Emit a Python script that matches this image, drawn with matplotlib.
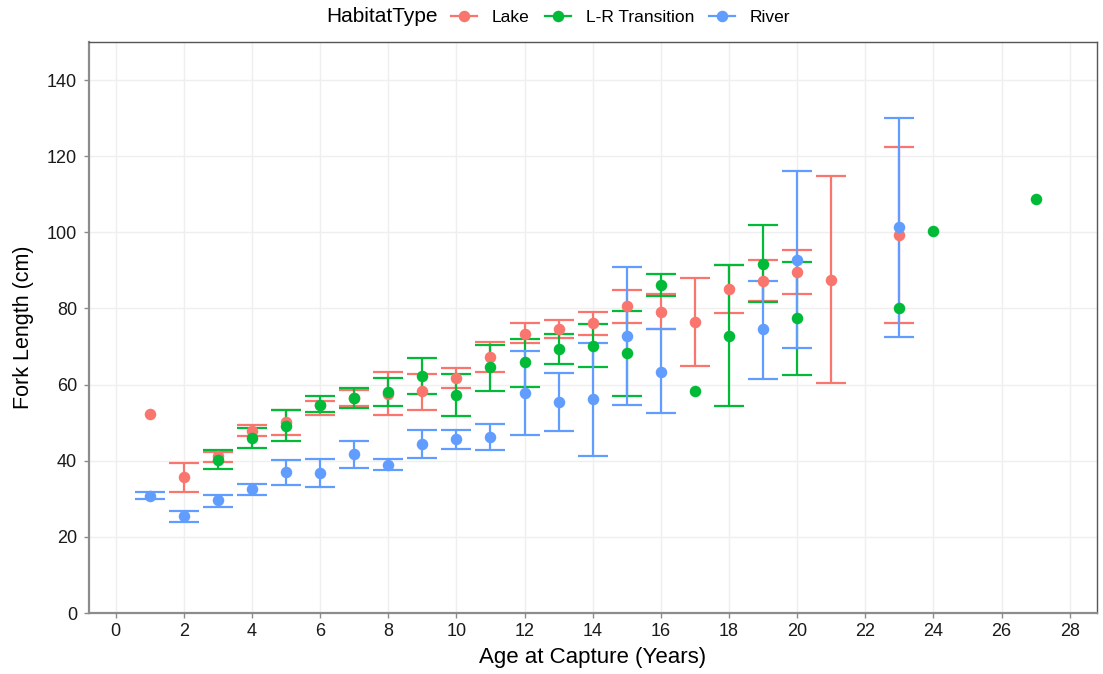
import numpy as np
import matplotlib
matplotlib.use("Agg")
import matplotlib.pyplot as plt
from matplotlib.lines import Line2D

plt.rcParams["font.family"] = ["Liberation Sans", "DejaVu Sans"]

# Mean fork length (cm) by age, with lower/upper bounds of the error bars
lake_age = [1, 2, 3, 4, 5, 6, 7, 8, 9, 10, 11, 12, 13, 14, 15, 16, 17, 18, 19, 20, 21, 23]
lake_mean = [52.4, 35.8, 41.3, 47.9, 50.2, 54.7, 56.6, 57.6, 58.2, 61.8, 67.3, 73.4, 74.6, 76.2,
             80.6, 79.2, 76.4, 85.2, 87.2, 89.5, 87.6, 99.2]
lake_low = [None, 31.9, 39.6, 46.4, 46.8, 52.1, 54.5, 51.9, 53.4, 59.0, 63.4, 71.0, 72.3, 72.9,
            76.2, 74.5, 65.0, 78.9, 81.9, 83.7, 60.3, 76.1]
lake_high = [None, 39.5, 42.4, 49.5, 53.4, 55.8, 58.7, 63.3, 62.7, 64.4, 71.2, 76.1, 76.9, 79.1,
             84.8, 83.9, 87.9, 91.5, 92.8, 95.4, 114.7, 122.5]

lr_age = [3, 4, 5, 6, 7, 8, 9, 10, 11, 12, 13, 14, 15, 16, 17, 18, 19, 20, 23, 24, 27]
lr_mean = [40.3, 46.0, 49.2, 54.6, 56.5, 58.0, 62.2, 57.2, 64.6, 65.9, 69.4, 70.1, 68.2, 86.2,
           58.2, 72.7, 91.7, 77.4, 80.0, 100.3, 108.7]
lr_low = [37.7, 43.3, 45.1, 52.9, 53.8, 54.3, 57.4, 51.8, 58.4, 59.5, 65.3, 64.6, 57.1, 83.2,
          None, 54.3, 81.7, 62.5, None, None, None]
lr_high = [42.7, 48.6, 53.2, 56.9, 59.0, 61.7, 67.0, 62.9, 70.4, 72.1, 73.2, 75.8, 79.4, 89.1,
           None, 91.4, 102.0, 92.3, None, None, None]

river_age = [1, 2, 3, 4, 5, 6, 7, 8, 9, 10, 11, 12, 13, 14, 15, 16, 19, 20, 23]
river_mean = [30.8, 25.4, 29.6, 32.5, 37.1, 36.9, 41.8, 39.0, 44.4, 45.7, 46.2, 57.8, 55.4, 56.1,
              72.7, 63.2, 74.5, 92.8, 101.4]
river_low = [29.9, 24.0, 27.9, 31.0, 33.7, 33.2, 38.1, 37.6, 40.6, 43.2, 42.7, 46.8, 47.8, 41.3,
             54.7, 52.5, 61.5, 69.7, 72.5]
river_high = [31.7, 26.7, 31.0, 33.9, 40.3, 40.5, 45.2, 40.4, 48.0, 48.2, 49.6, 68.8, 63.0, 70.8,
              90.9, 74.5, 87.3, 116.0, 130.1]

habitats = ["Lake", "L-R Transition", "River"]
colors = ["#F8766D", "#00BA38", "#619CFF"]
series = [
    (lake_age, lake_mean, lake_low, lake_high),
    (lr_age, lr_mean, lr_low, lr_high),
    (river_age, river_mean, river_low, river_high),
]

fig = plt.figure(figsize=(11.03, 6.74), dpi=100)
ax = fig.add_axes([89 / 1103, 61 / 674, 1008 / 1103, 571 / 674])

# error bars first, points on top
for (age, mean, low, high), col in zip(series, colors):
    idx = [i for i in range(len(age)) if low[i] is not None]
    x = np.array([age[i] for i in idx], float)
    m = np.array([mean[i] for i in idx], float)
    lo = np.array([low[i] for i in idx], float)
    hi = np.array([high[i] for i in idx], float)
    ax.errorbar(x, m, yerr=[m - lo, hi - m], fmt="none", ecolor=col,
                elinewidth=1.6, capsize=10.8, capthick=1.6, zorder=2)

for (age, mean, low, high), col in zip(series, colors):
    ax.plot(age, mean, "o", color=col, markersize=8.3, markeredgewidth=0, zorder=3)

ax.set_xlim(-0.78, 28.8)
ax.set_ylim(0, 150)
ax.set_xticks(np.arange(0, 29, 2))
ax.set_yticks(np.arange(0, 141, 20))
ax.grid(True, color="#EFEFEF", linewidth=1.0, zorder=0)
ax.set_axisbelow(True)

for side in ["top", "right"]:
    ax.spines[side].set_color("#555555")
    ax.spines[side].set_linewidth(1.0)
for side in ["left", "bottom"]:
    ax.spines[side].set_color("#8C8C8C")
    ax.spines[side].set_linewidth(1.6)

ax.tick_params(axis="both", length=3.5, width=1.0, color="#8C8C8C",
               labelsize=13, labelcolor="#1A1A1A")
ax.tick_params(axis="x", pad=4)
ax.tick_params(axis="y", pad=5)

ax.set_xlabel("Age at Capture (Years)", fontsize=16, color="#000000", labelpad=5)
ax.set_ylabel("Fork Length (cm)", fontsize=15.5, color="#000000", labelpad=9)

# legend across the top
fig.text(326 / 1103, 1 - 17 / 674, "HabitatType", fontsize=15, ha="left", va="center")
handles = [Line2D([0], [0], color=c, marker="o", markersize=8.3, markeredgewidth=0, linewidth=1.6)
           for c in colors]
fig.legend(handles, habitats, loc="center left", bbox_to_anchor=(451 / 1103, 1 - 17 / 674),
           ncol=3, frameon=False, fontsize=12.5, handlelength=1.5, handletextpad=0.86,
           columnspacing=0.86, borderpad=0, borderaxespad=0)

fig.savefig("out.png", dpi=100)
